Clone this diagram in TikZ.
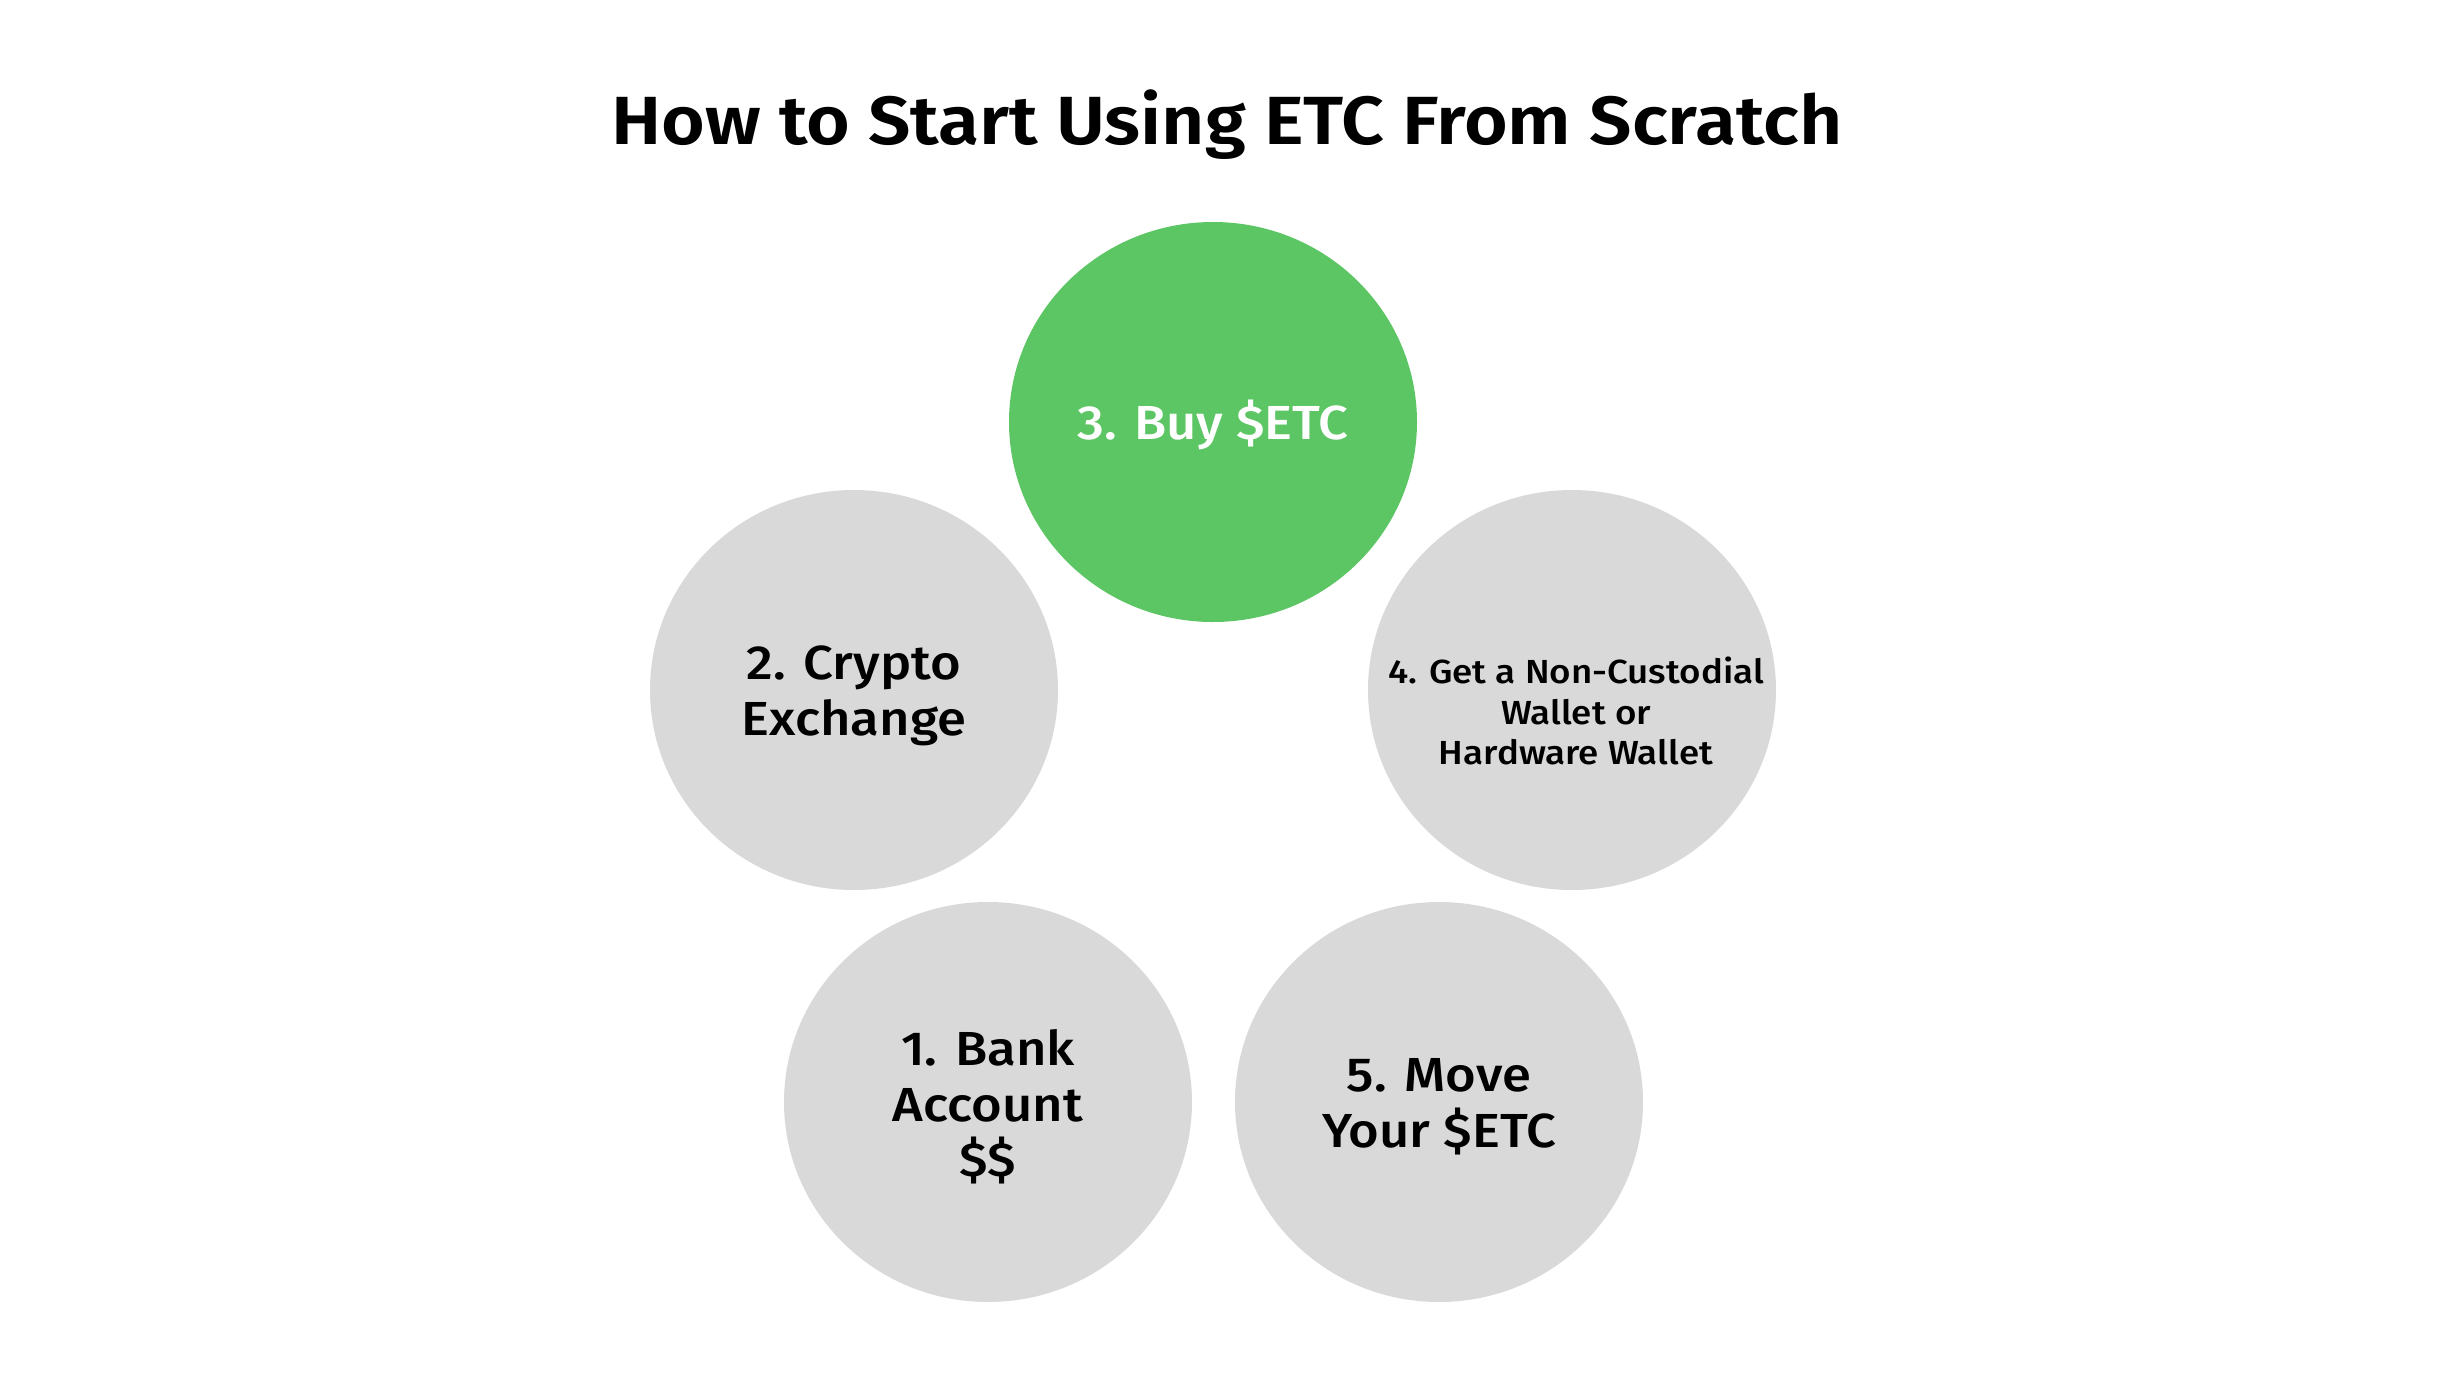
\documentclass[tikz,border=0pt]{standalone}
\usepackage{fontspec}
\setmainfont{Fira Sans}[UprightFont=* Medium, BoldFont=* SemiBold, FakeStretch=1.1]
\usetikzlibrary{shapes.geometric}
\definecolor{stepgreen}{HTML}{5DC664}
\definecolor{stepgray}{HTML}{D9D9D9}
\tikzset{
  disc/.style={ellipse, minimum width=4.08cm, minimum height=4.0cm, inner sep=0pt, draw=none},
  big/.style={font=\fontsize{13.6}{15.8}\selectfont, align=center, text=black},
  small/.style={font=\fontsize{9.5}{11.5}\selectfont, align=center, text=black},
}
\begin{document}
\begin{tikzpicture}
\useasboundingbox[fill=white] (0,0) rectangle (24.58,-13.82);
\node[font=\bfseries\fontsize{19.4}{22}\selectfont] (title) at (12.27,-1.25) {How to Start Using ETC From Scratch};
\node[disc, fill=stepgreen] (s3) at (12.13,-4.22) {};
\node[disc, fill=stepgray] (s2) at (8.54,-6.90) {};
\node[disc, fill=stepgray] (s4) at (15.72,-6.90) {};
\node[disc, fill=stepgray] (s1) at (9.88,-11.02) {};
\node[disc, fill=stepgray] (s5) at (14.39,-11.02) {};
\node[big, text=white] (t3) at ([yshift=-0.03cm]s3.center) {3. Buy \$ETC};
\node[big] (t2) at ([yshift=-0.06cm]s2.center) {2. Crypto\\Exchange};
\node[small] (t4) at ([xshift=0.04cm,yshift=-0.21cm]s4.center) {4. Get a Non-Custodial\\Wallet or\\Hardware Wallet};
\node[big] (t1) at ([yshift=-0.05cm]s1.center) {1. Bank\\Account\\\$\$};
\node[big] (t5) at ([yshift=-0.05cm]s5.center) {5. Move\\Your \$ETC};
\end{tikzpicture}
\end{document}
